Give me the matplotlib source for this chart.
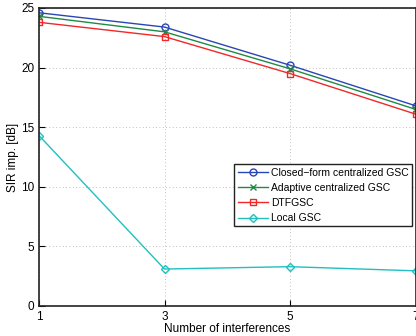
import matplotlib.pyplot as plt

plt.rcParams['font.family'] = ['Liberation Sans', 'DejaVu Sans']

interferences = [1, 3, 5, 7]
closed_form = [24.6, 23.4, 20.2, 16.8]
adaptive = [24.3, 23.0, 19.9, 16.5]
dtfgsc = [23.8, 22.6, 19.5, 16.1]
local_gsc = [14.3, 3.1, 3.3, 2.95]

fig = plt.figure(figsize=(4.16, 3.36), dpi=100)
ax = fig.add_axes([39 / 416, 1 - 306 / 336, 376.5 / 416, 298 / 336])

ax.plot(interferences, closed_form, color='#2a45b5', marker='o', mfc='none', ms=5, lw=1,
        label='Closed\u2212form centralized GSC')
ax.plot(interferences, adaptive, color='#1f8a45', marker='x', ms=4, lw=1,
        label='Adaptive centralized GSC')
ax.plot(interferences, dtfgsc, color='#f02828', marker='s', mfc='none', ms=5, lw=1,
        label='DTFGSC')
ax.plot(interferences, local_gsc, color='#20c0c0', marker='D', mfc='none', ms=4.5, lw=1,
        label='Local GSC')

ax.set_xlim(1, 7)
ax.set_ylim(0, 25)
ax.set_xticks([1, 3, 5, 7])
ax.set_yticks([0, 5, 10, 15, 20, 25])
ax.grid(True, linestyle=(0, (1, 3)), color='#aaaaaa', lw=0.6)
ax.tick_params(direction='in', labelsize=8.5, length=4, width=0.8)
for s in ax.spines.values():
    s.set_linewidth(1.2)
    s.set_color('#222222')

ax.set_xlabel('Number of interferences', fontsize=8.5, labelpad=0)
ax.set_ylabel('SIR imp. [dB]', fontsize=8.5, labelpad=1)

leg = ax.legend(loc='upper right', bbox_to_anchor=(0.99, 0.475), fontsize=7.5, fancybox=False,
                framealpha=1, edgecolor='#222222', handlelength=2.9, borderpad=0.3,
                labelspacing=0.5, handletextpad=0.3, borderaxespad=0)
leg.get_frame().set_linewidth(1)

fig.savefig('out.png', dpi=100)
